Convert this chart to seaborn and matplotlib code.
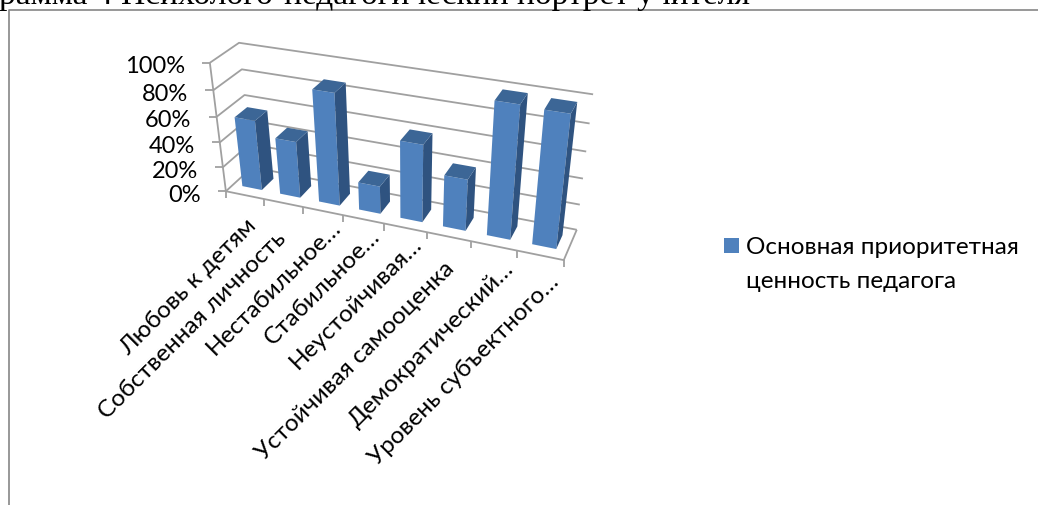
#!/usr/bin/env python
# -*- coding: utf-8 -*-
"""
Диаграмма: психолого-педагогический портрет учителя (псевдо-3D столбцы)
"""

import numpy as np
import matplotlib
matplotlib.use("Agg")
import matplotlib.pyplot as plt
import seaborn as sns
from matplotlib.patches import Polygon, Rectangle
from matplotlib.transforms import Transform

# =============================================
# 1. Данные
# =============================================
CATEGORIES = ["Любовь к детям", "Собственная личность", "Нестабильное…", "Стабильное…",
              "Неустойчивая…", "Устойчивая самооценка", "Демократический…", "Уровень субъектного…"]
VALUES = [0.56, 0.45, 0.87, 0.22, 0.60, 0.40, 0.99, 0.98]
Y_LEVELS = [0, 0.2, 0.4, 0.6, 0.8, 1.0]
Y_LABELS = ["0%", "20%", "40%", "60%", "80%", "100%"]
SERIES_NAME = "Основная приоритетная\nценность педагога"
TITLE = "рамма 4 Психолого-педагогический портрет учителя"

# сдвиг конца подписи от центра категории на полу, px
LABEL_OFFSET = [(8, 26), (-1, 31), (15, 12), (13, 13), (13, 12), (2, 28), (17, 19), (15, 22)]

FRONT = "#4F81BD"
TOP = "#3C6696"
SIDE = "#2F5380"
GRID = "#A0A0A0"
FRAME = "#868686"
Z0, Z1 = 0.28, 0.74

# =============================================
# 2. Перспектива: (x, y, z) -> пиксели
# =============================================
# опорные точки
WORLD = [(0, 0, 0), (0, 1, 0), (0, 0, 1), (0, 1, 1), (8, 0, 0), (8, 0, 1), (8, 1, 1),
         (2, 0, 0), (4, 0, 0), (6, 0, 0)]
PIXEL = [(226, 191), (210, 64), (252, 170), (239, 43), (564, 262), (577, 229), (593, 96),
         (303, 208), (384, 224), (471, 243)]


def fit_camera():
    rows = []
    for (x, y, z), (u, v) in zip(WORLD, PIXEL):
        rows.append([x, y, z, 1, 0, 0, 0, 0, -u * x, -u * y, -u * z, -u])
        rows.append([0, 0, 0, 0, x, y, z, 1, -v * x, -v * y, -v * z, -v])
    return np.linalg.svd(np.array(rows, float))[2][-1].reshape(3, 4)


CAMERA = fit_camera()


def project(x, y, z):
    p = CAMERA @ np.array([x, y, z, 1.0])
    return p[0] / p[2], p[1] / p[2]


class BarPlane(Transform):
    # данные seaborn (категория, значение) -> пиксели на плоскости z
    input_dims = output_dims = 2

    def __init__(self, z):
        super().__init__()
        self.z = z

    def transform_non_affine(self, values):
        return np.array([project(x + 0.5, y, self.z) for x, y in values])


# =============================================
# 3. Рисование
# =============================================
sns.set_theme(style="white")
plt.rcParams["font.family"] = ["Lato", "Open Sans", "DejaVu Sans"]

fig = plt.figure(figsize=(10.38, 5.06), dpi=100)
ax = fig.add_axes([0, 0, 1, 1])
sns.barplot(x=CATEGORIES, y=VALUES, color=FRONT, saturation=1, width=0.52, linewidth=0, ax=ax)
bars = list(ax.patches)
ax.set_xlim(0, 1038)
ax.set_ylim(506, 0)
ax.axis("off")


def line(points, color=GRID, lw=1.3, z=1):
    xs, ys = zip(*points)
    ax.plot(xs, ys, color=color, lw=lw, zorder=z, solid_capstyle="butt")


# рамка и заголовок
line([(9, 506), (9, 11), (1038, 11)], color=FRAME, lw=1.2)
ax.text(-1, 4, TITLE, family="Liberation Serif", fontsize=24.1, color="black", va="baseline")

# сетка на стенках
for level, text in zip(Y_LEVELS, Y_LABELS):
    front = project(0, level, 0)
    line([front, project(0, level, 1), project(8, level, 1)])
    line([(front[0] - 8, front[1]), front])
    ax.text(front[0] - 25, front[1] + 3, text, ha="right", va="center", fontsize=17, color="black")

# ось и пол
line([project(0, 0, 0), project(0, 1, 0)])
line([project(0, 0, 0), project(8, 0, 0), project(8, 0, 1)])
for i in range(9):
    px, py = project(i, 0, 0)
    line([(px, py), (px, py + 7)])

# столбцы
for bar in bars:
    x0, x1 = bar.get_x(), bar.get_x() + bar.get_width()
    h = bar.get_height()
    bar.set_transform(BarPlane(Z0) + ax.transData)
    bar.set_clip_on(False)
    bar.set_zorder(3)
    side = [project(x1 + 0.5, 0, Z0), project(x1 + 0.5, h, Z0), project(x1 + 0.5, h, Z1), project(x1 + 0.5, 0, Z1)]
    top = [project(x0 + 0.5, h, Z0), project(x1 + 0.5, h, Z0), project(x1 + 0.5, h, Z1), project(x0 + 0.5, h, Z1)]
    ax.add_patch(Polygon(side, color=SIDE, lw=0, zorder=3))
    ax.add_patch(Polygon(top, color=TOP, lw=0, zorder=3))

# подписи категорий
for i, (label, off) in enumerate(zip(CATEGORIES, LABEL_OFFSET)):
    px, py = project(i + 0.5, 0, 0)
    ax.text(px + off[0], py + off[1], label, rotation=45, rotation_mode="anchor",
            ha="right", va="center", fontsize=17.5, color="black")

# легенда
ax.add_patch(Rectangle((724, 239), 15, 15, color=FRONT, lw=0))
ax.text(746, 248, SERIES_NAME.split("\n")[0], va="center", fontsize=17.5, color="black")
ax.text(746, 281, SERIES_NAME.split("\n")[1], va="center", fontsize=17.5, color="black")

fig.savefig("out.png", dpi=100)
